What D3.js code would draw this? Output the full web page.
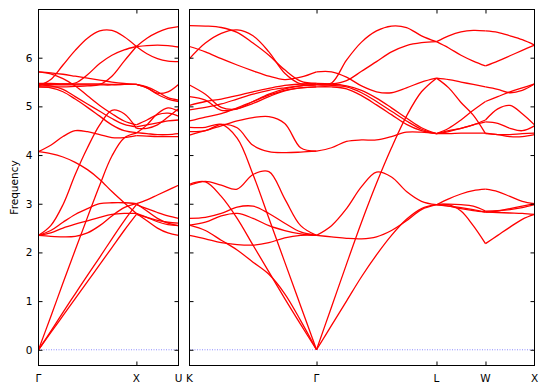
<!DOCTYPE html>
<html>
<head>
<meta charset="utf-8">
<script src="https://cdn.jsdelivr.net/npm/d3@7"></script>
<style>
  body { margin: 0; background: #fff; }
  svg { display: block; font-family: "DejaVu Sans", sans-serif; }
</style>
</head>
<body>
<div id="chart"></div>
<script>
// high-symmetry points (path coordinate along each panel)
const leftLabels = ["Γ", "X", "U"];
const leftPos = [0, 1, 1.43];
const rightLabels = ["K", "Γ", "L", "W", "X"];
const rightPos = [0, 1.296, 2.52, 3.02, 3.52];
const yTicks = [0, 1, 2, 3, 4, 5, 6];

// band frequencies, sampled at evenly spaced points along each segment
const gammaX = [
  [0, 0.68, 1.37, 2.05, 2.72, 3.38, 3.98, 4.35, 4.45],
  [0, 0.38, 0.77, 1.15, 1.53, 1.9, 2.28, 2.65, 2.98],
  [0, 0.35, 0.7, 1.05, 1.4, 1.75, 2.1, 2.45, 2.78],
  [2.35, 2.55, 2.98, 3.6, 4.15, 4.62, 4.92, 4.85, 4.55],
  [2.35, 2.45, 2.62, 2.78, 2.9, 3.0, 3.02, 3.02, 3.0],
  [2.35, 2.4, 2.5, 2.58, 2.65, 2.72, 2.78, 2.8, 2.8],
  [2.35, 2.33, 2.32, 2.33, 2.4, 2.55, 2.75, 2.92, 3.0],
  [4.07, 4.03, 3.96, 3.85, 3.7, 3.5, 3.25, 3.02, 2.8],
  [4.07, 4.2, 4.38, 4.5, 4.48, 4.42, 4.36, 4.36, 4.4],
  [5.42, 5.55, 5.85, 6.15, 6.4, 6.55, 6.56, 6.43, 6.23],
  [5.45, 5.45, 5.46, 5.48, 5.65, 5.88, 6.05, 6.16, 6.23],
  [5.4, 5.4, 5.4, 5.41, 5.42, 5.45, 5.62, 5.93, 6.23],
  [5.71, 5.69, 5.66, 5.62, 5.58, 5.54, 5.5, 5.47, 5.45],
  [5.47, 5.47, 5.46, 5.46, 5.46, 5.46, 5.45, 5.45, 5.45],
  [5.44, 5.44, 5.44, 5.44, 5.44, 5.44, 5.44, 5.45, 5.45],
  [5.4, 5.38, 5.3, 5.15, 4.98, 4.8, 4.62, 4.5, 4.46],
  [5.44, 5.42, 5.35, 5.2, 5.05, 4.9, 4.75, 4.63, 4.58],
  [5.71, 5.67, 5.57, 5.42, 5.22, 5.02, 4.85, 4.7, 4.62]
];

const xU = [
  [4.45, 4.62, 4.85, 4.97, 4.9],
  [2.98, 2.9, 2.82, 2.75, 2.7],
  [2.78, 2.72, 2.66, 2.62, 2.6],
  [4.55, 4.55, 4.62, 4.78, 4.95],
  [3.0, 3.08, 3.18, 3.28, 3.38],
  [2.8, 2.72, 2.63, 2.57, 2.55],
  [3.0, 2.85, 2.7, 2.6, 2.55],
  [2.8, 2.65, 2.5, 2.4, 2.35],
  [4.4, 4.39, 4.38, 4.38, 4.38],
  [6.23, 6.08, 5.98, 5.93, 5.92],
  [6.23, 6.25, 6.26, 6.25, 6.22],
  [6.23, 6.4, 6.52, 6.6, 6.64],
  [5.45, 5.38, 5.27, 5.3, 5.45],
  [5.45, 5.4, 5.3, 5.18, 5.13],
  [5.45, 5.38, 5.25, 5.15, 5.1],
  [4.46, 4.44, 4.42, 4.42, 4.44],
  [4.58, 4.62, 4.66, 4.7, 4.72],
  [4.62, 4.72, 4.83, 4.86, 4.8]
];

const kGamma = [
  [6.66, 6.65, 6.62, 6.52, 6.3, 6.05, 5.75, 5.52, 5.47],
  [5.98, 6.3, 6.5, 6.57, 6.45, 6.12, 5.68, 5.46, 5.44],
  [6.23, 6.12, 5.98, 5.85, 5.73, 5.62, 5.55, 5.6, 5.71],
  [5.44, 5.25, 4.98, 4.95, 5.1, 5.25, 5.36, 5.42, 5.45],
  [5.2, 5.13, 4.92, 4.95, 5.06, 5.2, 5.32, 5.38, 5.4],
  [5.02, 5.1, 5.15, 5.22, 5.3, 5.37, 5.43, 5.46, 5.47],
  [4.93, 4.98, 5.05, 5.15, 5.25, 5.33, 5.38, 5.42, 5.44],
  [4.7, 4.78, 4.85, 4.97, 5.1, 5.23, 5.33, 5.38, 5.4],
  [4.48, 4.5, 4.63, 4.56, 4.2, 4.07, 4.05, 4.06, 4.08],
  [4.41, 4.5, 4.6, 4.7, 4.77, 4.79, 4.65, 4.15, 4.08],
  [4.57, 4.57, 4.63, 4.35, 3.6, 2.7, 1.8, 0.9, 0],
  [3.4, 3.45, 3.15, 2.7, 2.15, 1.6, 1.05, 0.52, 0],
  [2.56, 2.45, 2.25, 2.05, 1.8, 1.55, 1.15, 0.6, 0],
  [3.38, 3.46, 3.38, 3.3, 3.6, 3.66, 3.1, 2.55, 2.35],
  [2.7, 2.72, 2.8, 2.93, 2.95, 2.8, 2.6, 2.42, 2.35],
  [2.56, 2.62, 2.75, 2.8, 2.7, 2.55, 2.45, 2.38, 2.35],
  [2.35, 2.28, 2.2, 2.16, 2.15, 2.2, 2.3, 2.35, 2.35]
];

const gammaL = [
  [5.45, 5.48, 5.95, 6.32, 6.55, 6.65, 6.62, 6.45, 6.33],
  [5.45, 5.46, 5.53, 5.72, 5.92, 6.12, 6.25, 6.31, 6.33],
  [5.71, 5.71, 5.6, 5.42, 5.3, 5.28, 5.38, 5.5, 5.58],
  [5.4, 5.4, 5.36, 5.22, 5.03, 4.83, 4.63, 4.5, 4.44],
  [5.44, 5.43, 5.4, 5.28, 5.1, 4.9, 4.7, 4.53, 4.44],
  [5.47, 5.46, 5.42, 5.33, 5.17, 4.97, 4.76, 4.56, 4.44],
  [0, 0.88, 1.76, 2.62, 3.42, 4.15, 4.8, 5.3, 5.58],
  [4.08, 4.15, 4.28, 4.31, 4.31, 4.38, 4.47, 4.47, 4.44],
  [0, 0.5, 1.0, 1.5, 1.95, 2.35, 2.68, 2.9, 2.98],
  [2.35, 2.55, 2.9, 3.35, 3.65, 3.55, 3.25, 3.05, 2.98],
  [2.35, 2.32, 2.29, 2.28, 2.32, 2.45, 2.65, 2.88, 2.98]
];

const lW = [
  [6.33, 6.45, 6.53, 6.56, 6.55],
  [6.33, 6.2, 6.05, 5.93, 5.83],
  [5.58, 5.55, 5.5, 5.45, 5.4],
  [5.58, 5.38, 5.08, 4.82, 4.44],
  [4.44, 4.55, 4.72, 4.92, 5.1],
  [4.44, 4.5, 4.55, 4.62, 4.72],
  [4.44, 4.48, 4.55, 4.62, 4.68],
  [4.44, 4.44, 4.45, 4.45, 4.45],
  [2.98, 3.1, 3.2, 3.27, 3.3],
  [2.98, 2.98, 2.85, 2.55, 2.18],
  [2.98, 2.95, 2.92, 2.88, 2.83],
  [2.98, 2.99, 2.98, 2.95, 2.85],
  [2.98, 2.95, 2.9, 2.86, 2.83]
];

const wX = [
  [6.55, 6.52, 6.45, 6.37, 6.26],
  [5.83, 5.93, 6.04, 6.15, 6.26],
  [5.4, 5.35, 5.28, 5.33, 5.46],
  [4.44, 4.42, 4.38, 4.38, 4.42],
  [5.1, 5.2, 5.3, 5.38, 5.46],
  [4.72, 4.95, 5.02, 4.85, 4.62],
  [4.68, 4.65, 4.55, 4.5, 4.6],
  [4.45, 4.42, 4.42, 4.44, 4.45],
  [3.3, 3.25, 3.15, 3.05, 3.0],
  [2.18, 2.35, 2.52, 2.68, 2.78],
  [2.83, 2.85, 2.9, 2.95, 3.0],
  [2.85, 2.86, 2.88, 2.92, 2.98],
  [2.83, 2.82, 2.81, 2.8, 2.78]
];

const width = 548, height = 392;
const plotTop = 9.5, plotBottom = 365.5;

const y = d3.scaleLinear().domain([-0.323, 6.99]).range([plotBottom, plotTop]);

const panels = [
  { x0: 38.5, x1: 178.5, pos: leftPos, labels: leftLabels,
    segs: [[0, 1, gammaX], [1, 1.43, xU]] },
  { x0: 189.5, x1: 534.5, pos: rightPos, labels: rightLabels,
    segs: [[0, 1.296, kGamma], [1.296, 2.52, gammaL], [2.52, 3.02, lW], [3.02, 3.52, wX]] }
];

const svg = d3.select('#chart')
  .append('svg')
  .attr('width', width)
  .attr('height', height);

panels.forEach((p, i) => {
  const x = d3.scaleLinear()
    .domain([p.pos[0], p.pos[p.pos.length - 1]])
    .range([p.x0, p.x1]);

  const g = svg.append('g');

  const clipId = 'clip' + i;
  svg.append('clipPath').attr('id', clipId)
    .append('rect')
    .attr('x', p.x0).attr('y', plotTop)
    .attr('width', p.x1 - p.x0).attr('height', plotBottom - plotTop);

  // zero line
  g.append('line')
    .attr('x1', p.x0).attr('x2', p.x1)
    .attr('y1', y(0)).attr('y2', y(0))
    .attr('stroke', '#6f6fff')
    .attr('stroke-width', 0.8)
    .attr('stroke-dasharray', '1,1.5');

  // bands
  const line = d3.line()
    .x(d => x(d[0]))
    .y(d => y(d[1]))
    .curve(d3.curveCatmullRom.alpha(0.5));

  const bandG = g.append('g').attr('clip-path', `url(#${clipId})`);
  p.segs.forEach(([k0, k1, bands]) => {
    bands.forEach(vals => {
      const ks = d3.scaleLinear().domain([0, vals.length - 1]).range([k0, k1]);
      const pts = vals.map((v, j) => [ks(j), v]);
      bandG.append('path')
        .attr('d', line(pts))
        .attr('fill', 'none')
        .attr('stroke', '#ff0000')
        .attr('stroke-width', 1.3);
    });
  });

  // y ticks, inward on both sides
  const yAxisL = d3.axisLeft(y).tickValues(yTicks).tickSizeInner(-4).tickSizeOuter(0)
    .tickFormat(i === 0 ? d3.format('d') : () => '');
  const yAxisR = d3.axisRight(y).tickValues(yTicks).tickSizeInner(-4).tickSizeOuter(0)
    .tickFormat(() => '');
  const ax1 = g.append('g').attr('transform', `translate(${p.x0},0)`).call(yAxisL);
  const ax2 = g.append('g').attr('transform', `translate(${p.x1},0)`).call(yAxisR);
  [ax1, ax2].forEach(a => {
    a.select('.domain').remove();
    a.selectAll('line').attr('stroke', '#000');
  });
  ax1.selectAll('text')
    .attr('x', -6)
    .style('font-size', '10.5px')
    .style('font-family', '"DejaVu Sans", sans-serif')
    .attr('fill', '#000');

  // x ticks at interior symmetry points, inward top and bottom
  const inner = p.pos.slice(1, -1);
  const xb = d3.axisBottom(x).tickValues(inner).tickSizeInner(-4).tickSizeOuter(0).tickFormat(() => '');
  const xt = d3.axisTop(x).tickValues(inner).tickSizeInner(-4).tickSizeOuter(0).tickFormat(() => '');
  const ax3 = g.append('g').attr('transform', `translate(0,${plotBottom})`).call(xb);
  const ax4 = g.append('g').attr('transform', `translate(0,${plotTop})`).call(xt);
  [ax3, ax4].forEach(a => {
    a.select('.domain').remove();
    a.selectAll('line').attr('stroke', '#000');
  });

  // symmetry labels
  g.selectAll('text.klabel')
    .data(p.labels)
    .enter().append('text')
    .attr('class', 'klabel')
    .attr('x', (d, j) => x(p.pos[j]))
    .attr('y', 382)
    .attr('text-anchor', 'middle')
    .style('font-size', '10.5px')
    .text(d => d);

  // frame
  g.append('rect')
    .attr('x', p.x0).attr('y', plotTop)
    .attr('width', p.x1 - p.x0).attr('height', plotBottom - plotTop)
    .attr('fill', 'none')
    .attr('stroke', '#000')
    .attr('stroke-width', 1);
});

svg.append('text')
  .attr('transform', `translate(18,${(plotTop + plotBottom) / 2}) rotate(-90)`)
  .attr('text-anchor', 'middle')
  .style('font-size', '10.5px')
  .text('Frequency');
</script>
</body>
</html>
